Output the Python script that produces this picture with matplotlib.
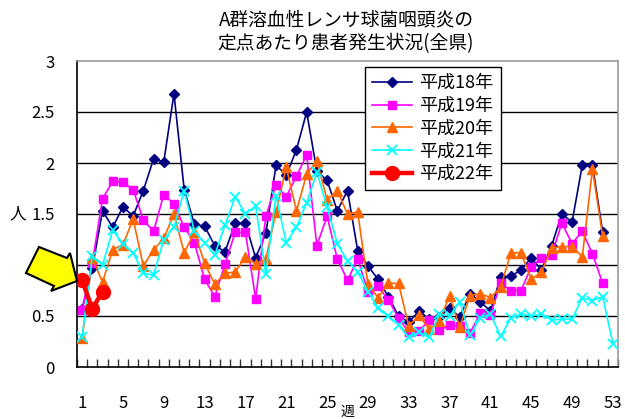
import matplotlib
matplotlib.use('Agg')
import matplotlib.pyplot as plt
from matplotlib.patches import Polygon

plt.rcParams['font.family'] = ['Noto Sans CJK JP', 'DejaVu Sans']

title_lines = ['A群溶血性レンサ球菌咽頭炎の', '定点あたり患者発生状況(全県)']
series_names = ['平成18年', '平成19年', '平成20年', '平成21年', '平成22年']
x_tick_labels = [1, 5, 9, 13, 17, 21, 25, 29, 33, 37, 41, 45, 49, 53]
y_ticks = [0, 0.5, 1, 1.5, 2, 2.5, 3]

h18 = [0.57, 0.97, 1.53, 1.37, 1.57, 1.48, 1.73, 2.04, 2.01, 2.68,
       1.74, 1.40, 1.38, 1.19, 1.13, 1.41, 1.41, 1.07, 1.31, 1.98,
       1.88, 2.13, 2.50, 1.92, 1.83, 1.53, 1.73, 1.14, 0.99, 0.86,
       0.69, 0.50, 0.44, 0.55, 0.47, 0.49, 0.58, 0.49, 0.72, 0.64,
       0.55, 0.88, 0.89, 0.95, 1.07, 0.95, 1.19, 1.50, 1.42, 1.98,
       1.98, 1.32]
h19 = [0.56, 1.02, 1.65, 1.82, 1.81, 1.74, 1.44, 1.33, 1.69, 1.60,
       1.37, 1.22, 0.86, 0.69, 1.01, 1.32, 1.32, 0.67, 1.48, 1.78,
       1.67, 1.87, 2.08, 1.19, 1.48, 1.06, 0.85, 1.06, 0.74, 0.79,
       0.66, 0.48, 0.34, 0.35, 0.46, 0.36, 0.41, 0.40, 0.33, 0.53,
       0.51, 0.82, 0.75, 0.75, 0.98, 1.07, 1.10, 1.41, 1.21, 1.33,
       1.11, 0.82]
h20 = [0.28, 1.07, 0.83, 1.15, 1.20, 1.45, 0.99, 1.15, 1.26, 1.50,
       1.12, 1.32, 1.02, 0.81, 0.92, 0.93, 1.08, 1.01, 1.06, 1.52,
       1.96, 1.53, 1.89, 2.02, 1.64, 1.73, 1.50, 1.52, 0.81, 0.68,
       0.82, 0.82, 0.40, 0.51, 0.37, 0.45, 0.70, 0.39, 0.70, 0.72,
       0.68, 0.78, 1.12, 1.12, 0.86, 0.93, 1.17, 1.18, 1.18, 1.08,
       1.94, 1.28]
h21 = [0.29, 1.09, 1.00, 1.34, 1.21, 1.12, 0.92, 0.90, 1.25, 1.37,
       1.73, 1.33, 1.22, 1.10, 1.39, 1.67, 1.50, 1.58, 0.91, 1.68,
       1.22, 1.37, 1.61, 1.91, 1.57, 1.21, 1.04, 0.93, 0.74, 0.58,
       0.50, 0.41, 0.29, 0.34, 0.29, 0.52, 0.50, 0.64, 0.31, 0.48,
       0.52, 0.30, 0.48, 0.52, 0.50, 0.52, 0.46, 0.47, 0.47, 0.68,
       0.65, 0.69, 0.23]
h22 = [0.85, 0.57, 0.74]

W, H = 625, 419
fig = plt.figure(figsize=(W / 100, H / 100), dpi=100)
L, R, T, B = 77, 618, 61, 367
ax = fig.add_axes([L / W, 1 - B / H, (R - L) / W, (B - T) / H])

def wk(vals):
    return list(range(1, len(vals) + 1))

ax.plot(wk(h18), h18, color='#000080', marker='D', ms=5.5, lw=1.2, label=series_names[0], zorder=3)
ax.plot(wk(h19), h19, color='#FF00FF', marker='s', ms=6, lw=1.2, label=series_names[1], zorder=3)
ax.plot(wk(h20), h20, color='#FF6600', marker='^', ms=7, lw=1.2, label=series_names[2], zorder=3)
ax.plot(wk(h21), h21, color='#00FFFF', marker='x', ms=6.5, mew=1.3, lw=1.2, label=series_names[3], zorder=3)
ax.plot(wk(h22), h22, color='#FF0000', marker='o', ms=10, lw=3.2, label=series_names[4], zorder=4)

ax.set_xlim(0.5, 53.5)
ax.set_ylim(0, 3)
ax.set_yticks(y_ticks)
ax.set_yticklabels([('%g' % v) for v in y_ticks], fontsize=12)
ax.tick_params(axis='y', length=0, pad=16)
ax.set_xticks(x_tick_labels)
ax.set_xticklabels([str(v) for v in x_tick_labels], fontsize=12)
ax.set_xticks([i + 0.5 for i in range(0, 54)], minor=True)
ax.tick_params(axis='x', which='major', length=0, pad=20)
ax.tick_params(axis='x', which='minor', direction='in', length=6, width=1, color='#333333')

for v in y_ticks[1:-1]:
    ax.axhline(v, color='black', lw=1, zorder=1)

ax.spines['left'].set_color('black')
ax.spines['bottom'].set_color('black')
ax.spines['top'].set_color('#999999')
ax.spines['right'].set_color('#999999')
for s in ax.spines.values():
    s.set_linewidth(1.2)

fig.text(346 / W, 1 - 20 / H, title_lines[0], ha='center', va='center', fontsize=13.5)
fig.text(346 / W, 1 - 44 / H, title_lines[1], ha='center', va='center', fontsize=13.5)
fig.text(18 / W, 1 - 214 / H, '人', ha='center', va='center', fontsize=12)
fig.text(347 / W, 1 - 418.5 / H, '週', ha='center', va='bottom', fontsize=10)

leg = ax.legend(loc='upper left', bbox_to_anchor=(365 / W, 1 - 67 / H),
                bbox_transform=fig.transFigure, fontsize=13, frameon=True,
                fancybox=False, edgecolor='black', framealpha=1,
                handlelength=2.2, handletextpad=0.4, labelspacing=0.26,
                borderpad=0.4, borderaxespad=0)
leg.get_frame().set_linewidth(1)

arrow = [(39, 247), (67, 258), (70, 253), (77, 281), (51, 291), (54, 286), (26, 273)]
poly = Polygon([(x / W, 1 - y / H) for x, y in arrow], closed=True,
               transform=fig.transFigure, facecolor='#FFFF00', edgecolor='black',
               lw=1.5, zorder=10)
fig.patches.append(poly)

fig.savefig('out.png', dpi=100)
